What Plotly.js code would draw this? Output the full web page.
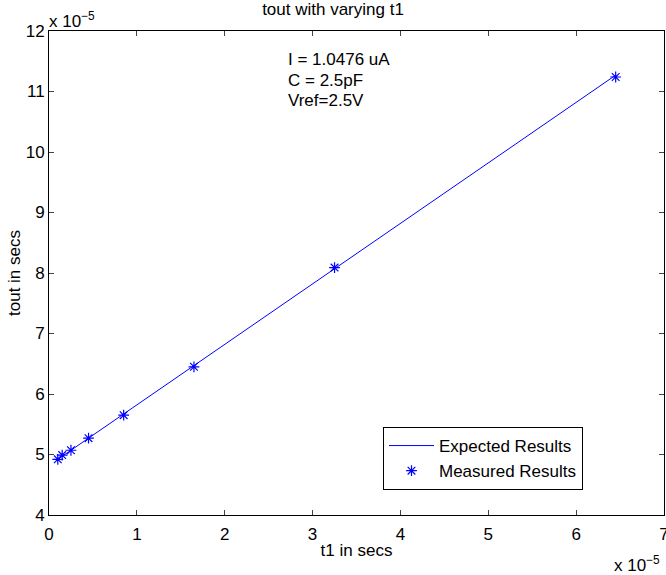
<!DOCTYPE html>
<html>
<head>
<meta charset="utf-8">
<script src="https://cdn.plot.ly/plotly-3.0.1.min.js"></script>
<style>html,body{margin:0;padding:0;background:#fff;}#chart{width:666px;height:575px;}</style>
</head>
<body>
<div id="chart"></div>
<script>
// values in units of 1e-5 s
const t1Values = [0.1, 0.15, 0.25, 0.45, 0.85, 1.65, 3.25, 6.45];
const expectedTout = [4.92, 4.97, 5.07, 5.27, 5.67, 6.47, 8.07, 11.27];
const measuredTout = [4.92, 4.99, 5.07, 5.27, 5.65, 6.45, 8.09, 11.24];
const xTicks = [0, 1, 2, 3, 4, 5, 6, 7];
const yTicks = [4, 5, 6, 7, 8, 9, 10, 11, 12];
const infoLines = ["I = 1.0476 uA", "C = 2.5pF", "Vref=2.5V"];

const FONT = "Liberation Sans, Arial, sans-serif";
const FS = 17;
const traces = [
  {x: t1Values, y: expectedTout, mode: "lines", name: "Expected Results",
   line: {color: "#0000ff", width: 1}},
  {x: t1Values, y: measuredTout, mode: "markers", name: "Measured Results",
   marker: {symbol: "asterisk-open", size: 9, line: {color: "#0000ff", width: 1.2}, color: "#0000ff"}}
];
const annotations = infoLines.map((t, i) => ({
  xref: "paper", yref: "paper", x: (286 - 49) / 615, y: (515 - 59 - i * 21) / 484,
  xanchor: "left", yanchor: "middle", text: t, showarrow: false,
  font: {family: FONT, size: FS, color: "#000"}
}));
annotations.push({xref: "paper", yref: "paper", x: 0, y: 1, xanchor: "left", yanchor: "bottom",
  text: "x 10<sup>−5</sup>", showarrow: false, yshift: -2, xshift: -2,
  font: {family: FONT, size: FS, color: "#000"}});
annotations.push({xref: "paper", yref: "paper", x: (612 - 49) / 615, y: 0, xanchor: "left", yanchor: "top",
  text: "x 10<sup>−5</sup>", showarrow: false, yshift: -36,
  font: {family: FONT, size: FS, color: "#000"}});

const layout = {
  width: 666, height: 575,
  margin: {l: 49, r: 2, t: 31, b: 60},
  paper_bgcolor: "#fff", plot_bgcolor: "#fff",
  font: {family: FONT, size: FS, color: "#000"},
  title: {text: "tout with varying t1", x: 0.5, xanchor: "center", y: 1, yref: "container", yanchor: "top", pad: {t: 3},
          font: {family: FONT, size: FS, color: "#000"}},
  showlegend: true,
  legend: {x: (383 - 49) / 615, y: (515 - 427) / 484, xanchor: "left", yanchor: "top",
           bordercolor: "#000", borderwidth: 1, bgcolor: "#fff", itemwidth: 45,
           font: {family: FONT, size: FS, color: "#000"}, tracegroupgap: 0},
  xaxis: {range: [0, 7], tickvals: xTicks, ticktext: xTicks.map(String), ticks: "inside", ticklen: 5,
          ticklabeloverflow: "allow", ticklabelstandoff: 4,
          showline: true, linecolor: "#000", linewidth: 1, mirror: "ticks", showgrid: false, zeroline: false,
          title: {text: "t1 in secs", standoff: 0, font: {family: FONT, size: FS}},
          automargin: false},
  yaxis: {range: [4, 12], tickvals: yTicks, ticktext: yTicks.map(String), ticks: "inside", ticklen: 5,
          ticklabeloverflow: "allow",
          showline: true, linecolor: "#000", linewidth: 1, mirror: "ticks", showgrid: false, zeroline: false,
          title: {text: "tout in secs", standoff: 0, font: {family: FONT, size: FS}},
          automargin: false},
  annotations: annotations
};
Plotly.newPlot("chart", traces, layout, {displayModeBar: false, staticPlot: true});
</script>
</body>
</html>
